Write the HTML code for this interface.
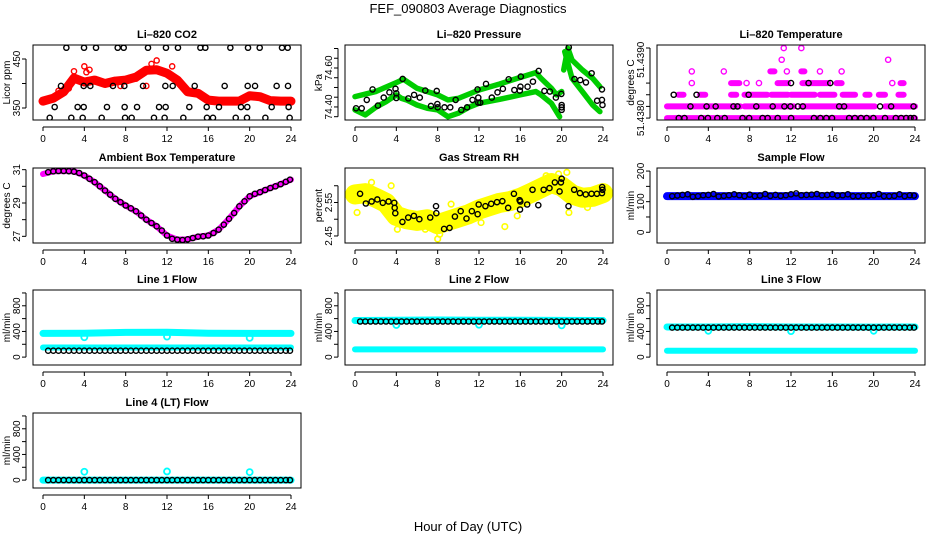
<!DOCTYPE html>
<html><head><meta charset="utf-8"><style>
html,body{margin:0;padding:0;background:#fff;}
svg{display:block;font-family:"Liberation Sans",Arial,sans-serif;}
</style></head><body>
<svg id="chart" width="936" height="540" viewBox="0 0 936 540">
<text x="468" y="13" text-anchor="middle" font-size="13">FEF_090803  Average Diagnostics</text>
<text x="468" y="531" text-anchor="middle" font-size="13">Hour of Day (UTC)</text>
</svg>
<script>
const halfHours=[0.5,1,1.5,2,2.5,3,3.5,4,4.5,5,5.5,6,6.5,7,7.5,8,8.5,9,9.5,10,10.5,11,11.5,12,12.5,13,13.5,14,14.5,15,15.5,16,16.5,17,17.5,18,18.5,19,19.5,20,20.5,21,21.5,22,22.5,23,23.5,23.9];
const xTicks=[0,4,8,12,16,20,24];
const bandHours=[0,1,2,3,4,5,6,7,8,9,10,11,12,13,14,15,16,17,18,19,20,21,22,23,24];

// CO2
const co2Band=[364,370,383,411,403,407,400,405,407,413,427,428,421,407,383,380,366,364,364,364,375,373,365,364,364];
const co2OutHours=[2.5,3,4,4.2,11,10.5,12.5,9,7.5,10,1.5,4.5];
const co2OutVals=[390,425,435,423,447,440,435,410,395,395,385,428];
const co2BlackHours=[2.26,3.97,5.13,7.23,7.81,10.16,11.9,13.06,15.23,15.71,18.13,19.84,20.97,23.13,23.68,1.74,3.94,4.58,6.77,7.87,9.68,11.84,12.55,14.68,17.58,19.81,20.52,22.61,23.71,1.13,3.35,3.94,6.19,7.9,9.1,11.23,11.87,14.16,15.84,17.03,19.16,19.77,22.13,23.77,0.65,2.74,3.84,5.68,7.94,8.58,10.74,11.77,13.58,15.87,16.45,18.65,19.74,21.52,23.87];
const co2BlackVals=[473,473,473,473,473,473,473,473,473,473,473,473,473,473,473,395,395,395,395,395,395,395,395,395,395,395,395,395,395,352,352,352,352,352,352,352,352,352,352,352,352,352,352,352,330,330,330,330,330,330,330,330,330,330,330,330,330,330,330];

// Pressure
const presUpHoursA=[0,2,4,4.7,6,8,9,10,12,14,16,17.5,18,19,19.5,20];
const presUpValsA=[74.453,74.479,74.525,74.542,74.496,74.462,74.436,74.444,74.487,74.518,74.552,74.576,74.547,74.496,74.462,74.479];
const presUpHoursB=[20.2,20.6,21,22,23,23.7];
const presUpValsB=[74.590,74.701,74.641,74.590,74.547,74.504];
const presLoHoursA=[0,1,2,3,4,4.5,5,6,7,8,9,10,11,12,14,16,17.5,18,19,19.8];
const presLoValsA=[74.385,74.359,74.398,74.427,74.462,74.444,74.436,74.410,74.393,74.385,74.350,74.368,74.398,74.419,74.439,74.462,74.479,74.462,74.419,74.350];
const presLoHoursB=[20.3,21,22,23,23.7];
const presLoValsB=[74.684,74.547,74.479,74.410,74.376];
const presBlackHours=[0.1,0.65,1.14,1.7,2.22,2.78,3.33,3.92,4.0,4.0,4.61,5.16,5.72,6.27,6.8,7.35,7.91,7.97,8.0,8.66,9.22,9.74,10.29,10.85,11.37,11.86,11.93,11.93,12.12,12.68,13.24,13.79,14.31,14.87,15.42,15.95,16.01,16.05,16.7,17.22,17.78,18.33,18.86,19.44,19.97,20.0,20.0,20.0,20.69,21.24,21.8,22.35,22.9,23.43,23.9,23.9,23.95];
const presBlackVals=[74.393,74.393,74.436,74.490,74.407,74.448,74.475,74.493,74.470,74.446,74.544,74.444,74.462,74.448,74.484,74.405,74.482,74.415,74.398,74.398,74.398,74.436,74.385,74.398,74.436,74.490,74.448,74.422,74.422,74.518,74.448,74.475,74.493,74.542,74.487,74.484,74.504,74.556,74.504,74.530,74.585,74.482,74.479,74.448,74.467,74.410,74.398,74.385,74.706,74.543,74.538,74.526,74.573,74.432,74.490,74.436,74.410];

// Li-820 temperature (discrete levels)
const tempSegStart=[0,0,7.5,13,21.1,1.1,3.2,6.2,7.5,10.1,12,14.8,17,19.2,20.5,22.4,6.2,10.7,13.1,16.4,22.6,10,13];
const tempSegEnd=[24,7.1,12.3,20.1,24,1.6,3.7,6.7,9.7,11.7,14.3,16.2,18.2,19.6,21.1,22.9,7,11.7,15.6,16.9,22.9,10.4,13.3];
const tempSegVals=[51.4380,51.4382,51.4382,51.4382,51.4382,51.4384,51.4384,51.4384,51.4384,51.4384,51.4384,51.4384,51.4384,51.4384,51.4384,51.4384,51.4386,51.4386,51.4386,51.4386,51.4386,51.4388,51.4388];
const tempPtHours=[2.4,7.7,8.9,21.8,2.4,5.5,11.6,14.8,16.9,11.1,21.4,11.3,13];
const tempPtVals=[51.4386,51.4386,51.4386,51.4386,51.4388,51.4388,51.4388,51.4388,51.4388,51.4390,51.4390,51.4392,51.4392];
const tempBlackHours=[1.14,1.69,3.31,3.96,4.87,5.58,7.31,7.95,9.25,9.74,10.71,12.01,14.22,14.84,15.42,15.97,17.63,18.18,18.77,19.32,19.97,21.1,22.14,22.66,23.15,23.57,23.9,2.27,3.83,4.71,6.43,6.82,8.64,10.23,11.36,11.95,12.66,13.15,16.66,17.14,20.62,21.69,23.86,0.65,2.86,7.9,12,13.7,15.8];
const tempBlackVals=[51.4380,51.4380,51.4380,51.4380,51.4380,51.4380,51.4380,51.4380,51.4380,51.4380,51.4380,51.4380,51.4380,51.4380,51.4380,51.4380,51.4380,51.4380,51.4380,51.4380,51.4380,51.4380,51.4380,51.4380,51.4380,51.4380,51.4380,51.4382,51.4382,51.4382,51.4382,51.4382,51.4382,51.4382,51.4382,51.4382,51.4382,51.4382,51.4382,51.4382,51.4382,51.4382,51.4382,51.4384,51.4384,51.4384,51.4386,51.4386,51.4386];

// Ambient box temperature
const ambBand=[30.74,30.9,30.92,30.9,30.65,30.25,29.75,29.25,28.85,28.5,28.0,27.6,27.05,26.8,26.82,26.98,27.05,27.4,28.05,28.8,29.4,29.65,29.9,30.13,30.4];
const ambBlack=[30.85,30.9,30.92,30.92,30.91,30.88,30.8,30.65,30.45,30.25,30.0,29.75,29.5,29.25,29.05,28.85,28.68,28.5,28.25,28.0,27.8,27.6,27.35,27.05,26.85,26.8,26.78,26.82,26.9,26.98,27.0,27.05,27.2,27.4,27.7,28.05,28.4,28.8,29.1,29.4,29.55,29.65,29.78,29.9,30.0,30.13,30.27,30.4];

// Gas stream RH
const rhBand=[2.574,2.578,2.564,2.549,2.51,2.5,2.495,2.5,2.485,2.495,2.505,2.515,2.529,2.539,2.549,2.554,2.564,2.578,2.593,2.608,2.598,2.574,2.564,2.567,2.578];
const rhOutHours=[8,8.2,20.5,20.7,0.2,1.6,4.1,9.3,12.2,14.5,15.7,18.5,19.7,22.5,3.5,6.8];
const rhOutVals=[2.441,2.455,2.64,2.52,2.52,2.61,2.47,2.545,2.49,2.478,2.51,2.63,2.635,2.535,2.6,2.47];
const rhBlackHours=[0.49,1.05,1.61,2.16,2.69,3.25,3.8,3.84,3.9,4.59,5.15,5.7,6.23,7.28,7.84,7.87,8.62,9.15,9.67,10.23,10.79,11.31,11.87,11.97,12.62,13.18,13.74,14.26,14.82,15.38,15.93,15.97,16.0,16.66,17.18,17.74,18.26,18.82,19.34,19.93,20.0,19.8,20.66,21.21,21.77,22.33,22.89,23.41,23.9,23.92,23.95];
const rhBlackVals=[2.576,2.547,2.553,2.559,2.549,2.553,2.549,2.534,2.518,2.492,2.505,2.510,2.500,2.505,2.539,2.518,2.471,2.474,2.508,2.524,2.502,2.524,2.515,2.544,2.539,2.546,2.551,2.554,2.534,2.576,2.557,2.529,2.553,2.544,2.588,2.542,2.588,2.593,2.610,2.610,2.621,2.583,2.539,2.588,2.578,2.574,2.576,2.576,2.578,2.596,2.588];

// Sample flow
const sampleBand=[118,118];
const sampleBlack=[118,120,122,124,116,118,121,122,125,117,119,121,124,121,118,123,118,120,125,119,122,119,121,124,127,121,122,123,125,121,122,124,120,121,124,118,118,119,120,121,125,118,118,119,124,118,121,120];
const flowBandHours=[0,4,8,12,16,20,24];
const outHours=[4,12,20];
// Line 1
const l1Up=[370,372,385,388,372,370,370];
const l1Lo=[150,150,150,150,150,150,150];
const l1Out=[310,320,300];
const l1Black=100;
// Line 2
const l2Up=[570,575,578,575,575,572,570];
const l2Lo=[120,120,120,120,120,120,120];
const l2Out=[500,505,495];
const l2Black=555;
// Line 3
const l3Up=[470,470,475,470,470,468,470];
const l3Lo=[100,100,100,100,100,100,100];
const l3Out=[410,405,410];
const l3Black=460;
// Line 4
const l4Up=[0,0,0,0,0,0,0];
const l4Out=[130,135,125];
const l4Black=0;

const NS="http://www.w3.org/2000/svg";
const svg=document.getElementById('chart');
function mk(tag,attrs,parent){const e=document.createElementNS(NS,tag);for(const k in attrs)e.setAttribute(k,attrs[k]);(parent||svg).appendChild(e);return e;}

function makePanel(col,row,title,ylab,dom,ticks,labTicks,name){
  const x0=col*312+33,x1=col*312+301;
  const y0=[45,168,290,413][row],y1=y0+75;
  const g=mk('g',{});
  
  
  const xs=h=>col*312+43+h*(248/24);
  const ys=v=>y1-(v-dom[0])/(dom[1]-dom[0])*(y1-y0);
  const clipId='clip'+col+row;
  const cp=mk('clipPath',{id:clipId},g);
  mk('rect',{x:x0,y:y0,width:x1-x0,height:y1-y0},cp);
  const data=mk('g',{'clip-path':'url(#'+clipId+')'},g);
  
  
  const box=mk('rect',{x:x0,y:y0,width:x1-x0,height:y1-y0,fill:'none',stroke:'#000','stroke-width':1},g);
  
  
  const t=mk('text',{x:(x0+x1)/2,y:y0-7,'text-anchor':'middle','font-size':11,'font-weight':'bold'},g);
  t.textContent=title;
  
  
  const yl=mk('text',{x:0,y:0,'text-anchor':'middle','font-size':10,transform:'translate('+(col*312+10)+','+((y0+y1)/2)+') rotate(-90)'},g);
  yl.textContent=ylab;
  
  
  const xa=mk('g',{},g);
  
  
  mk('line',{x1:xs(0),x2:xs(24),y1:y1+7,y2:y1+7,stroke:'#000'},xa);
  xTicks.forEach(h=>{
    mk('line',{x1:xs(h),x2:xs(h),y1:y1+7,y2:y1+11,stroke:'#000'},xa);
    const tl=mk('text',{x:xs(h),y:y1+22,'text-anchor':'middle','font-size':10},xa);
    tl.textContent=h;
    
    
  });
  const ya=mk('g',{},g);
  
  
  mk('line',{x1:x0-7,x2:x0-7,y1:ys(ticks[0]),y2:ys(ticks[ticks.length-1]),stroke:'#000'},ya);
  ticks.forEach(v=>mk('line',{x1:x0-11,x2:x0-7,y1:ys(v),y2:ys(v),stroke:'#000'},ya));
  labTicks.forEach(lt=>{
    const tl=mk('text',{x:0,y:0,'text-anchor':'middle','font-size':10,transform:'translate('+(x0-13)+','+ys(lt[0])+') rotate(-90)'},ya);
    tl.textContent=lt[1];
    
    
  });
  return {g:data,xs,ys};
}
function band(p,hours,vals,color,w,name){
  const pts=hours.map((h,i)=>p.xs(h)+','+p.ys(vals[i])).join(' ');
  const e=mk('polyline',{points:pts,fill:'none',stroke:color,'stroke-width':w,'stroke-linecap':'round','stroke-linejoin':'round'},p.g);
  
  
}
function pts(p,hours,vals,color,name,r,sw){
  hours.forEach((h,i)=>{
    const v=Array.isArray(vals)?vals[i]:vals;
    const c=mk('circle',{cx:p.xs(h),cy:p.ys(v),r:r||2.6,fill:'none',stroke:color,'stroke-width':sw||1.4},p.g);
    
    
  });
}

// CO2
let p=makePanel(0,0,'Li\u2013820 CO2','Licor ppm',[325.5,478.6],[350,400,450],[[350,'350'],[450,'450']],'co2');
band(p,bandHours,co2Band,'#ff0000',9,'co2-band');
pts(p,co2OutHours,co2OutVals,'#ff0000','co2-point');
pts(p,co2BlackHours,co2BlackVals,'#000','co2-average-point');

// Pressure
p=makePanel(1,0,'Li\u2013820 Pressure','kPa',[74.333,74.718],[74.35,74.40,74.45,74.50,74.55,74.60,74.65,74.70],[[74.40,'74.40'],[74.60,'74.60']],'pressure');
band(p,presUpHoursA,presUpValsA,'#00cd00',5.5,'pressure-band-upper');
band(p,presUpHoursB,presUpValsB,'#00cd00',5.5,'pressure-band-upper');
band(p,presLoHoursA,presLoValsA,'#00cd00',5.5,'pressure-band-lower');
band(p,presLoHoursB,presLoValsB,'#00cd00',5.5,'pressure-band-lower');
pts(p,presBlackHours,presBlackVals,'#000','pressure-average-point');

// Li-820 temperature
p=makePanel(2,0,'Li\u2013820 Temperature','degrees C',[51.437967,51.439253],[51.4380,51.4382,51.4384,51.4386],[],'li820-temp');
tempSegStart.forEach((s,i)=>{
  const e=mk('line',{x1:p.xs(s),x2:p.xs(tempSegEnd[i]),y1:p.ys(tempSegVals[i]),y2:p.ys(tempSegVals[i]),stroke:'#ff00ff','stroke-width':6,'stroke-linecap':'round'},p.g);
  
  
});
pts(p,tempPtHours,tempPtVals,'#ff00ff','li820-temp-point');
pts(p,tempBlackHours,tempBlackVals,'#000','li820-temp-average-point');
{
  const lab=[[51.4380,'51.4380'],[51.4390,'51.4390']];
  lab.forEach(lt=>{
    const tl=mk('text',{x:0,y:0,'text-anchor':'middle','font-size':10,transform:'translate('+(624+20)+','+p.ys(lt[0])+') rotate(-90)'});
    tl.textContent=lt[1];
    
    
  });
  const ax=mk('line',{x1:624+26,x2:624+26,y1:p.ys(51.4386),y2:48,stroke:'#000'});
  
  
  const tk=mk('line',{x1:624+22,x2:624+26,y1:48,y2:48,stroke:'#000'});
  
  
}

// Ambient
p=makePanel(0,1,'Ambient Box Temperature','degrees C',[26.6,31.1],[27,28,29,30,31],[[27,'27'],[29,'29'],[31,'31']],'ambient');
band(p,bandHours,ambBand,'#ff00ff',6,'ambient-band');
pts(p,halfHours,ambBlack,'#000','ambient-average-point');

// RH
p=makePanel(1,1,'Gas Stream RH','percent',[2.429,2.653],[2.45,2.50,2.55,2.60],[[2.45,'2.45'],[2.55,'2.55']],'rh');
band(p,bandHours,rhBand,'#ffff00',20,'rh-band');
pts(p,rhOutHours,rhOutVals,'#ffff00','rh-point',2.8,1.6);
pts(p,rhBlackHours,rhBlackVals,'#000','rh-average-point');

// Sample flow
p=makePanel(2,1,'Sample Flow','ml/min',[-35,210],[0,50,100,150,200],[[0,'0'],[100,'100'],[200,'200']],'sample-flow');
band(p,[0,24],sampleBand,'#0000ff',8,'sample-flow-band');
pts(p,halfHours,sampleBlack,'#000','sample-flow-average-point');

const fdom=[-123,1046],fticks=[0,200,400,600,800,1000],flab=[[0,'0'],[400,'400'],[800,'800']];
function flowPanel(col,row,title,name,up,lo,out,black){
  const q=makePanel(col,row,title,'ml/min',fdom,fticks,flab,name);
  band(q,flowBandHours,up,'#00ffff',7,name+'-band');
  if(lo) band(q,flowBandHours,lo,'#00ffff',6,name+'-band-low');
  pts(q,outHours,out,'#00ffff',name+'-outlier',3,1.8);
  pts(q,halfHours,black,'#000',name+'-average-point');
}
flowPanel(0,2,'Line 1 Flow','line1-flow',l1Up,l1Lo,l1Out,l1Black);
flowPanel(1,2,'Line 2 Flow','line2-flow',l2Up,l2Lo,l2Out,l2Black);
flowPanel(2,2,'Line 3 Flow','line3-flow',l3Up,l3Lo,l3Out,l3Black);
flowPanel(0,3,'Line 4 (LT) Flow','line4-flow',l4Up,null,l4Out,l4Black);
</script>
</body></html>
